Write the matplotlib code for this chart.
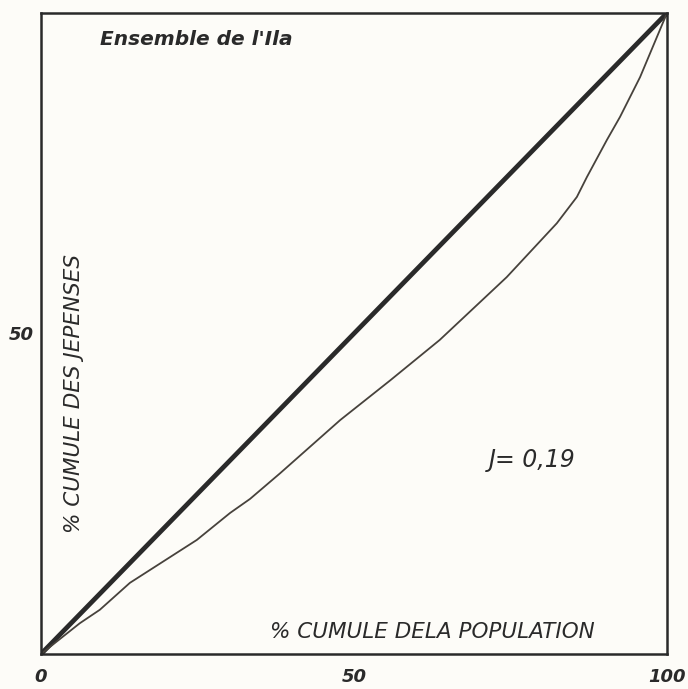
import matplotlib
matplotlib.use("Agg")
import matplotlib.pyplot as plt

# Lorenz curve data
pop_cum = [0, 6.2, 9.4, 14.2, 24.9, 30.2, 33.4, 38.2, 47.8, 55.8, 63.7, 74.4, 82.4, 85.6, 87.2, 90.4, 92.5, 95.7, 100]
dep_cum = [0, 4.8, 6.9, 11.1, 17.8, 22.0, 24.2, 28.2, 36.5, 42.7, 49.0, 58.8, 67.2, 71.3, 74.4, 80.2, 83.8, 90.0, 100]
equality = [0, 100]
x_ticks = [0, 50, 100]
x_ticklabels = ["0", "50", "100"]
y_ticks = [50]
y_ticklabels = ["50"]

title = "Ensemble de l'Ila"
xlabel = "% CUMULE DELA POPULATION"
ylabel = "% CUMULE DES JEPENSES"
gini_text = "J= 0,19"

fig = plt.figure(figsize=(6.88, 6.89), dpi=100)
fig.patch.set_facecolor("#fdfcf8")
ax = fig.add_axes([41/688, 35/689, 626/688, 641/689])
ax.set_facecolor("#fdfcf8")

ax.plot(equality, equality, color="#2a2a2a", lw=3.4, solid_capstyle="round")
ax.plot(pop_cum, dep_cum, color="#47423c", lw=1.3, solid_joinstyle="round")

ax.set_xlim(0, 100)
ax.set_ylim(0, 100)
for s in ax.spines.values():
    s.set_linewidth(1.8)
    s.set_color("#2a2a2a")

ax.set_xticks(x_ticks)
ax.set_xticklabels(x_ticklabels, fontsize=13, fontstyle="italic", fontweight="bold", color="#2a2a2a")
ax.set_yticks(y_ticks)
ax.set_yticklabels(y_ticklabels, fontsize=13, fontstyle="italic", fontweight="bold", color="#2a2a2a")
ax.tick_params(axis="x", length=0, pad=10)
ax.tick_params(axis="y", length=0, pad=5)

ax.text(9.4, 95.8, title, fontsize=14.5, fontstyle="italic", fontweight="bold",
        color="#2a2a2a", ha="left", va="center")
ax.text(5.3, 40.7, ylabel, rotation=90, fontsize=15.5, fontstyle="italic",
        color="#2a2a2a", ha="center", va="center")
ax.text(62.5, 3.4, xlabel, fontsize=15.5, fontstyle="italic",
        color="#2a2a2a", ha="center", va="center")
ax.text(78.4, 30.3, gini_text, fontsize=17, fontstyle="italic",
        color="#2a2a2a", ha="center", va="center")

fig.savefig("out.png", dpi=100, facecolor=fig.get_facecolor())
